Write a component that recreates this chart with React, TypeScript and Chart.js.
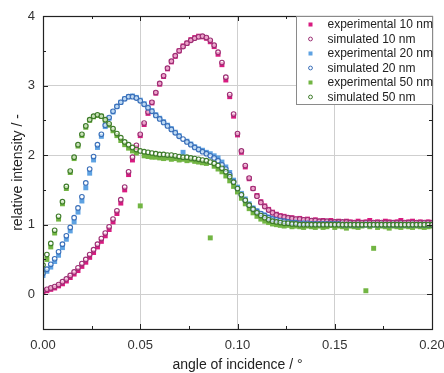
import { useEffect, useRef } from "react";
import { Chart, registerables } from "chart.js";

Chart.register(...registerables);

// angle of incidence / °
const angles = [
  0, 0.002, 0.004, 0.006, 0.008, 0.01, 0.012, 0.014, 0.016, 0.018, 0.02,
  0.022, 0.024, 0.026, 0.028, 0.03, 0.032, 0.034, 0.036, 0.038, 0.04,
  0.042, 0.044, 0.046, 0.048, 0.05, 0.052, 0.054, 0.056, 0.058, 0.06,
  0.062, 0.064, 0.066, 0.068, 0.07, 0.072, 0.074, 0.076, 0.078, 0.08,
  0.082, 0.084, 0.086, 0.088, 0.09, 0.092, 0.094, 0.096, 0.098, 0.1,
  0.102, 0.104, 0.106, 0.108, 0.11, 0.112, 0.114, 0.116, 0.118, 0.12,
  0.122, 0.124, 0.126, 0.128, 0.13, 0.132, 0.134, 0.136, 0.138, 0.14,
  0.142, 0.144, 0.146, 0.148, 0.15, 0.152, 0.154, 0.156, 0.158, 0.16,
  0.162, 0.164, 0.166, 0.168, 0.17, 0.172, 0.174, 0.176, 0.178, 0.18,
  0.182, 0.184, 0.186, 0.188, 0.19, 0.192, 0.194, 0.196, 0.198, 0.2,
];

const exp10 = [
  0.03, 0.05, 0.07, 0.09, 0.12, 0.15, 0.19, 0.24, 0.29, 0.34, 0.40,
  0.46, 0.53, 0.60, 0.68, 0.76, 0.84, 0.93, 1.04, 1.16, 1.31,
  1.50, 1.72, 1.93, 2.11, 2.28, 2.44, 2.60, 2.75, 2.89, 3.02,
  3.13, 3.24, 3.34, 3.42, 3.50, 3.57, 3.61, 3.66, 3.69, 3.71,
  3.70, 3.68, 3.63, 3.56, 3.45, 3.30, 3.08, 2.84, 2.56, 2.29,
  2.04, 1.83, 1.66, 1.52, 1.42, 1.33, 1.27, 1.22, 1.18, 1.15,
  1.13, 1.12, 1.10, 1.10, 1.08, 1.09, 1.07, 1.08, 1.06, 1.07,
  1.05, 1.06, 1.04, 1.06, 1.04, 1.05, 1.03, 1.05, 1.04, 1.03,
  1.05, 1.03, 1.04, 1.06, 1.03, 1.04, 1.02, 1.05, 1.04, 1.03,
  1.04, 1.06, 1.03, 1.04, 1.05, 1.03, 1.04, 1.02, 1.04, 1.03,
];

const sim10 = [
  0.05, 0.07, 0.09, 0.11, 0.14, 0.18, 0.22, 0.27, 0.32, 0.38, 0.44,
  0.50, 0.57, 0.64, 0.72, 0.80, 0.88, 0.97, 1.08, 1.20, 1.36,
  1.54, 1.76, 1.97, 2.14, 2.30, 2.46, 2.62, 2.76, 2.90, 3.03,
  3.14, 3.25, 3.35, 3.43, 3.50, 3.56, 3.61, 3.65, 3.68, 3.70,
  3.71, 3.69, 3.65, 3.58, 3.48, 3.33, 3.12, 2.87, 2.59, 2.31,
  2.06, 1.85, 1.67, 1.52, 1.41, 1.32, 1.26, 1.21, 1.17, 1.14,
  1.12, 1.11, 1.10, 1.09, 1.08, 1.08, 1.07, 1.07, 1.06, 1.06,
  1.05, 1.05, 1.05, 1.04, 1.04, 1.04, 1.04, 1.04, 1.03, 1.03,
  1.03, 1.03, 1.03, 1.03, 1.03, 1.03, 1.03, 1.03, 1.03, 1.03,
  1.03, 1.03, 1.03, 1.03, 1.03, 1.03, 1.03, 1.03, 1.03, 1.03,
];

const exp20 = [
  0.27, 0.33, 0.39, 0.47, 0.56, 0.67, 0.79, 0.91, 1.04, 1.18, 1.34,
  1.53, 1.74, 1.93, 2.11, 2.27, 2.41, 2.53, 2.62, 2.70, 2.76,
  2.81, 2.84, 2.85, 2.83, 2.79, 2.74, 2.69, 2.64, 2.58, 2.53,
  2.48, 2.43, 2.38, 2.33, 2.28, 2.04, 2.20, 2.16, 2.12, 2.09,
  2.07, 2.04, 2.02, 1.99, 1.96, 1.90, 1.83, 1.75, 1.64, 1.54,
  1.45, 1.37, 1.30, 1.24, 1.20, 1.16, 1.14, 1.11, 1.09, 1.07,
  1.06, 1.05, 1.05, 1.03, 1.04, 1.02, 1.03, 1.02, 1.01, 1.02,
  1.01, 1.02, 1.00, 1.01, 1.02, 1.00, 1.01, 0.99, 1.01, 1.00,
  1.01, 1.00, 1.02, 0.99, 1.01, 1.00, 1.01, 1.00, 0.99, 1.01,
  1.00, 1.01, 0.99, 1.00, 1.01, 1.00, 0.99, 1.01, 1.00, 1.00,
];

const sim20 = [
  0.30, 0.36, 0.43, 0.51, 0.61, 0.72, 0.84, 0.96, 1.10, 1.24, 1.40,
  1.60, 1.80, 1.98, 2.15, 2.30, 2.43, 2.54, 2.63, 2.70, 2.76,
  2.81, 2.84, 2.84, 2.82, 2.78, 2.73, 2.68, 2.63, 2.57, 2.52,
  2.47, 2.42, 2.37, 2.32, 2.27, 2.23, 2.19, 2.15, 2.11, 2.08,
  2.05, 2.02, 1.99, 1.96, 1.92, 1.86, 1.80, 1.72, 1.62, 1.52,
  1.43, 1.35, 1.28, 1.23, 1.19, 1.16, 1.13, 1.10, 1.08, 1.07,
  1.06, 1.05, 1.04, 1.03, 1.03, 1.02, 1.02, 1.02, 1.01, 1.01,
  1.01, 1.01, 1.01, 1.01, 1.01, 1.01, 1.00, 1.00, 1.00, 1.00,
  1.00, 1.00, 1.00, 1.00, 1.00, 1.00, 1.00, 1.00, 1.00, 1.00,
  1.00, 1.00, 1.00, 1.00, 1.00, 1.00, 1.00, 1.00, 1.00, 1.00,
];

const exp50 = [
  0.33, 0.50, 0.68, 0.88, 1.08, 1.30, 1.52, 1.75, 1.95, 2.13, 2.28,
  2.40, 2.50, 2.55, 2.57, 2.56, 2.50, 2.43, 2.35, 2.28, 2.21,
  2.15, 2.10, 2.06, 2.03, 1.27, 1.99, 1.98, 1.97, 1.97, 1.96,
  1.95, 1.96, 1.94, 1.95, 1.93, 1.94, 1.92, 1.93, 1.91, 1.90,
  1.89, 1.88, 0.81, 1.84, 1.80, 1.76, 1.70, 1.63, 1.55, 1.47,
  1.38, 1.30, 1.23, 1.17, 1.12, 1.08, 1.05, 1.03, 1.01, 1.00,
  0.99, 0.98, 0.99, 0.97, 0.98, 0.97, 0.96, 0.98, 0.97, 0.96,
  0.98, 0.96, 0.97, 0.99, 0.96, 0.98, 0.97, 0.95, 0.98, 0.97,
  0.96, 0.98, 0.05, 0.97, 0.66, 0.96, 0.98, 0.97, 0.95, 0.98,
  0.97, 0.96, 0.98, 0.97, 0.96, 0.98, 0.97, 0.96, 0.97, 0.98,
];

const sim50 = [
  0.42, 0.57, 0.73, 0.92, 1.12, 1.33, 1.55, 1.77, 1.97, 2.15, 2.30,
  2.42, 2.51, 2.56, 2.58, 2.56, 2.51, 2.45, 2.38, 2.31, 2.25,
  2.19, 2.15, 2.11, 2.08, 2.06, 2.05, 2.04, 2.03, 2.02, 2.01,
  2.01, 2.00, 2.00, 1.99, 1.98, 1.97, 1.97, 1.96, 1.95, 1.94,
  1.93, 1.92, 1.90, 1.88, 1.85, 1.81, 1.76, 1.69, 1.61, 1.52,
  1.43, 1.35, 1.28, 1.22, 1.17, 1.13, 1.10, 1.07, 1.05, 1.04,
  1.03, 1.02, 1.02, 1.01, 1.01, 1.00, 1.00, 1.00, 1.00, 1.00,
  1.00, 1.00, 1.00, 1.00, 1.00, 1.00, 1.00, 1.00, 1.00, 1.00,
  1.00, 1.00, 1.00, 1.00, 1.00, 1.00, 1.00, 1.00, 1.00, 1.00,
  1.00, 1.00, 1.00, 1.00, 1.00, 1.00, 1.00, 1.00, 1.00, 1.00,
];

const seriesLabels = [
  "experimental 10 nm",
  "simulated 10 nm",
  "experimental 20 nm",
  "simulated 20 nm",
  "experimental 50 nm",
  "simulated 50 nm",
];

const xMajorTicks = [0, 0.05, 0.1, 0.15, 0.2];
const xMinorTicks = [0.025, 0.075, 0.125, 0.175];
const yMajorTicks = [0, 1, 2, 3, 4];
const yMinorTicks = [0.5, 1.5, 2.5, 3.5];

const FONT = "'Liberation Sans', Arial, Helvetica, sans-serif";

const toPoints = (ys: number[]) => angles.map((a, i) => ({ x: a, y: ys[i] }));

const expStyle = (color: string, order: number) => ({
  showLine: false,
  pointStyle: "rect",
  pointRadius: 3.5,
  pointHoverRadius: 3.5,
  pointBackgroundColor: color,
  pointBorderColor: color,
  pointBorderWidth: 0,
  backgroundColor: color,
  borderColor: color,
  order,
});

const simStyle = (color: string, order: number) => ({
  showLine: false,
  pointStyle: "circle",
  pointRadius: 2.3,
  pointHoverRadius: 2.3,
  pointBackgroundColor: "rgba(255,255,255,0.6)",
  pointBorderColor: color,
  pointBorderWidth: 1.1,
  backgroundColor: "rgba(255,255,255,0.6)",
  borderColor: color,
  order,
});

const framePlugin = {
  id: "frameTicks",
  afterDatasetsDraw(chart: any) {
    const { ctx, chartArea, scales } = chart;
    const { left, right, top, bottom } = chartArea;
    const xs = scales.x;
    const ys = scales.y;
    ctx.save();
    ctx.strokeStyle = "#222";
    ctx.lineWidth = 1.2;
    ctx.strokeRect(Math.round(left) + 0.5, Math.round(top) + 0.5, Math.round(right - left), Math.round(bottom - top));
    ctx.lineWidth = 1;
    const tick = (x1: number, y1: number, x2: number, y2: number) => {
      ctx.beginPath();
      ctx.moveTo(x1, y1);
      ctx.lineTo(x2, y2);
      ctx.stroke();
    };
    const drawX = (vals: number[], len: number) => {
      vals.forEach((v) => {
        const px = Math.round(xs.getPixelForValue(v)) + 0.5;
        tick(px, bottom, px, bottom - len);
        tick(px, top, px, top + len);
      });
    };
    const drawY = (vals: number[], len: number) => {
      vals.forEach((v) => {
        const py = Math.round(ys.getPixelForValue(v)) + 0.5;
        tick(left, py, left + len, py);
        tick(right, py, right - len, py);
      });
    };
    drawX(xMajorTicks, 5);
    drawX(xMinorTicks, 3);
    drawY(yMajorTicks, 5);
    drawY(yMinorTicks, 3);
    ctx.restore();
  },
};

const legendPlugin = {
  id: "boxLegend",
  afterDraw(chart: any) {
    const { ctx, chartArea } = chart;
    const boxRight = Math.round(chartArea.right) + 0.5;
    const boxTop = Math.round(chartArea.top) + 0.5;
    const boxW = 136;
    const boxH = 88;
    const boxLeft = boxRight - boxW;
    ctx.save();
    ctx.fillStyle = "#ffffff";
    ctx.fillRect(boxLeft, boxTop, boxW, boxH);
    ctx.strokeStyle = "#8a8a8a";
    ctx.lineWidth = 1;
    ctx.strokeRect(boxLeft, boxTop, boxW, boxH);
    ctx.font = `12px ${FONT}`;
    ctx.textBaseline = "middle";
    ctx.textAlign = "left";
    chart.data.datasets.forEach((ds: any, i: number) => {
      const cy = boxTop + 8 + i * 14.5;
      const mx = boxLeft + 14;
      if (ds.pointStyle === "rect") {
        ctx.fillStyle = ds.pointBackgroundColor;
        ctx.fillRect(mx - 2, cy - 2, 4, 4);
      } else {
        ctx.beginPath();
        ctx.arc(mx, cy, 1.9, 0, Math.PI * 2);
        ctx.fillStyle = "#fff";
        ctx.fill();
        ctx.strokeStyle = ds.pointBorderColor;
        ctx.lineWidth = 1;
        ctx.stroke();
      }
      ctx.fillStyle = "#222";
      ctx.fillText(ds.label, boxLeft + 31, cy + 0.5);
    });
    ctx.restore();
  },
};

export default function App() {
  const canvasRef = useRef<HTMLCanvasElement | null>(null);

  useEffect(() => {
    document.body.style.margin = "0";
    const canvas = canvasRef.current;
    if (!canvas) return;
    const chart = new Chart(canvas, {
      type: "scatter",
      data: {
        datasets: [
          { label: seriesLabels[0], data: toPoints(exp10), ...expStyle("#d81b80", 6) },
          { label: seriesLabels[1], data: toPoints(sim10), ...simStyle("#9c2f74", 3) },
          { label: seriesLabels[2], data: toPoints(exp20), ...expStyle("#5ea2e2", 5) },
          { label: seriesLabels[3], data: toPoints(sim20), ...simStyle("#3a6fb9", 2) },
          { label: seriesLabels[4], data: toPoints(exp50), ...expStyle("#72b543", 4) },
          { label: seriesLabels[5], data: toPoints(sim50), ...simStyle("#3e7b2a", 1) },
        ] as any,
      },
      options: {
        animation: false,
        responsive: false,
        devicePixelRatio: 1,
        layout: { padding: { top: 16, right: 12, left: 0, bottom: 0 } },
        plugins: {
          legend: { display: false },
          tooltip: { enabled: false },
        },
        scales: {
          x: {
            type: "linear",
            min: 0,
            max: 0.2,
            afterBuildTicks: (scale: any) => {
              scale.ticks = xMajorTicks.map((v) => ({ value: v }));
            },
            afterFit: (scale: any) => {
              scale.height = 44;
              scale.paddingLeft = 0;
              scale.paddingRight = 0;
            },
            grid: { color: "#cfcfcf", lineWidth: 1, drawTicks: false },
            border: { display: false },
            ticks: {
              autoSkip: false,
              maxRotation: 0,
              padding: 9,
              color: "#333",
              font: { family: FONT, size: 13 },
              callback: (v: any) => Number(v).toFixed(2),
            },
            title: {
              display: true,
              text: "angle of incidence / °",
              color: "#222",
              font: { family: FONT, size: 14, lineHeight: 1 },
              padding: { top: 1, bottom: 1 },
            },
          },
          y: {
            type: "linear",
            min: -0.5,
            max: 4,
            afterBuildTicks: (scale: any) => {
              scale.ticks = yMajorTicks.map((v) => ({ value: v }));
            },
            afterFit: (scale: any) => {
              scale.width = 43;
              scale.paddingTop = 0;
              scale.paddingBottom = 0;
            },
            grid: { color: "#cfcfcf", lineWidth: 1, drawTicks: false },
            border: { display: false },
            ticks: {
              padding: 8,
              color: "#333",
              font: { family: FONT, size: 13 },
              callback: (v: any) => String(v),
            },
            title: {
              display: true,
              text: "relative intensity / -",
              color: "#222",
              font: { family: FONT, size: 14, lineHeight: 1 },
              padding: { top: 11, bottom: 11 },
            },
          },
        },
      } as any,
      plugins: [framePlugin, legendPlugin],
    });
    return () => chart.destroy();
  }, []);

  return (
    <div style={{ width: 444, height: 373, background: "#fff" }}>
      <canvas ref={canvasRef} width={444} height={373} style={{ display: "block" }} />
    </div>
  );
}
